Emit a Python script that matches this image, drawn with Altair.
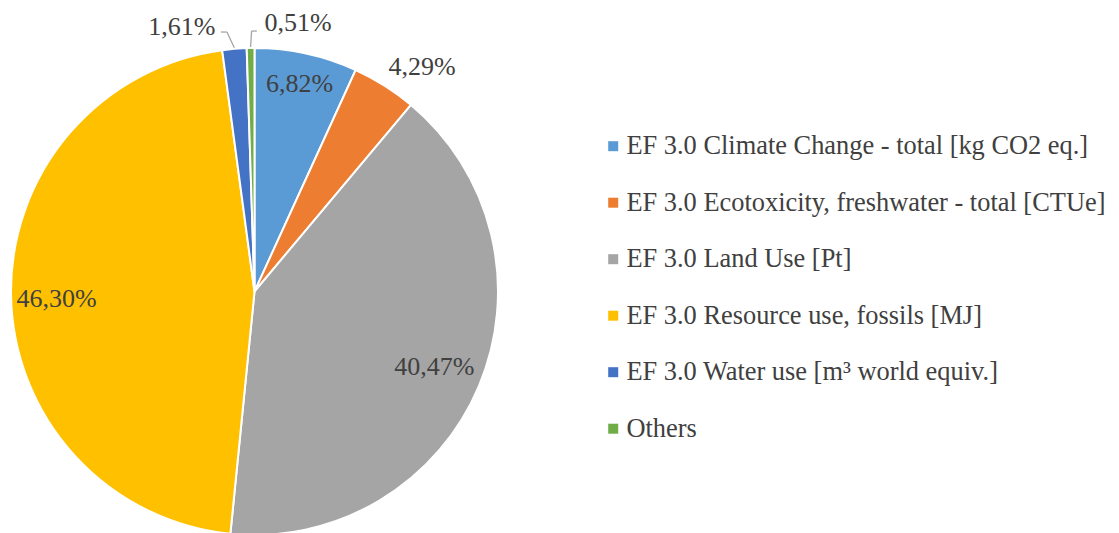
import altair as alt
import pandas as pd

categories = [
    "EF 3.0 Climate Change - total [kg CO2 eq.]",
    "EF 3.0 Ecotoxicity, freshwater - total [CTUe]",
    "EF 3.0 Land Use [Pt]",
    "EF 3.0 Resource use, fossils [MJ]",
    "EF 3.0 Water use [m³ world equiv.]",
    "Others",
]
shares = [6.82, 4.29, 40.47, 46.30, 1.61, 0.51]
colors = ["#5B9BD5", "#ED7D31", "#A5A5A5", "#FFC000", "#4472C4", "#70AD47"]
labels = [f"{v:.2f}".replace(".", ",") + "%" for v in shares]

df = pd.DataFrame({
    "cat": categories,
    "share": shares,
    "label": labels,
    "idx": list(range(len(categories))),
})

CX, CY, R = 246.5, 283.5, 243.5
FONT = "'Times New Roman', 'Liberation Serif', 'DejaVu Serif', serif"
FS = 26
LEG_FS = 26.4
TXT = "#404040"
LEADER = "#A6A6A6"

base = (
    alt.Chart(df)
    .transform_joinaggregate(total="sum(share)")
    .transform_window(cum="sum(share)", sort=[alt.SortField("idx")], frame=[None, 0])
    .transform_calculate(
        a0="(datum.cum - datum.share) / datum.total * 2 * PI",
        a1="datum.cum / datum.total * 2 * PI",
    )
    .transform_calculate(mid="(datum.a0 + datum.a1) / 2")
    .transform_calculate(
        sx=f"{CX} + {R + 1} * sin(datum.mid)",
        sy=f"{CY} - {R + 1} * cos(datum.mid)",
    )
)

arc = base.mark_arc(radius=R, stroke="white", strokeWidth=2).encode(
    theta=alt.Theta("a0:Q", scale=None),
    theta2="a1:Q",
    color=alt.Color(
        "cat:N",
        scale=alt.Scale(domain=categories, range=colors),
        legend=alt.Legend(
            title=None,
            orient="none",
            legendX=592,
            legendY=125,
            symbolType="square",
            symbolSize=100,
            symbolStrokeWidth=0,
            labelFont=FONT,
            labelFontSize=LEG_FS,
            labelColor=TXT,
            labelLimit=800,
            labelOffset=0,
            rowPadding=29.5,
        ),
    ),
    x=alt.value(CX),
    y=alt.value(CY),
)


def label(text, radius, align="center", dx=0, dy=0):
    return (
        base.transform_filter(alt.datum.label == text)
        .mark_text(
            radius=radius, align=align, baseline="middle", dx=dx, dy=dy,
            font=FONT, fontSize=FS, color=TXT,
        )
        .encode(
            theta=alt.Theta("mid:Q", scale=None),
            text="label:N",
            x=alt.value(CX),
            y=alt.value(CY),
        )
    )


def leader(text, ex, ey, hx):
    src = base.transform_filter(alt.datum.label == text).transform_calculate(
        ex=f"datum.sx + {ex}",
        ey=f"datum.sy + {ey}",
        hx=f"datum.sx + {ex + hx}",
    )
    seg1 = src.mark_rule(color=LEADER, strokeWidth=1.3).encode(
        x=alt.X("sx:Q", scale=None, axis=None),
        y=alt.Y("sy:Q", scale=None, axis=None),
        x2="ex:Q",
        y2="ey:Q",
    )
    seg2 = src.mark_rule(color=LEADER, strokeWidth=1.3).encode(
        x=alt.X("ex:Q", scale=None, axis=None),
        y=alt.Y("ey:Q", scale=None, axis=None),
        x2="hx:Q",
        y2="ey:Q",
    )
    return [seg1, seg2]


layers = [
    arc,
    label(labels[0], 212),
    label(labels[1], R, align="left", dx=4, dy=-19),
    label(labels[2], 195),
    label(labels[3], 198, dy=4),
    label(labels[4], R + 1, align="right", dx=-19, dy=-21),
    label(labels[5], R + 1, align="left", dx=14, dy=-24.5),
]
layers += leader(labels[4], -7.4, -15.8, -6)
layers += leader(labels[5], 1, -16, 5.3)

chart = (
    alt.layer(*layers)
    .properties(
        width=1103,
        height=525,
        padding=0,
        autosize=alt.AutoSizeParams(type="none"),
    )
    .configure_view(stroke=None)
)

chart.save("out.html", embed_options={"renderer": "svg", "actions": False})
